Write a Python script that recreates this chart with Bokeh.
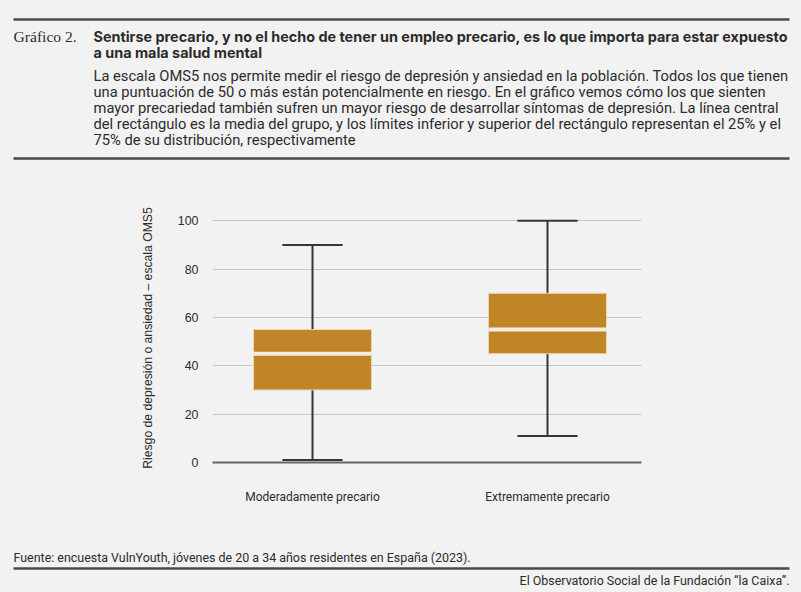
from bokeh.plotting import figure
from bokeh.models import Range1d, FixedTicker, Column
from bokeh.core.properties import value
from bokeh.embed import file_html
from bokeh.resources import INLINE

# ---------------- data ----------------
categories = ["Moderadamente precario", "Extremamente precario"]
whisker_low = [1, 11]
q1 = [30, 45]
mean = [45, 55]
q3 = [55, 70]
whisker_high = [90, 100]
y_ticks = [0, 20, 40, 60, 80, 100]

title_lines = [
    "Sentirse precario, y no el hecho de tener un empleo precario, es lo que importa para estar expuesto",
    "a una mala salud mental",
]
desc_lines = [
    "La escala OMS5 nos permite medir el riesgo de depresión y ansiedad en la población. Todos los que tienen",
    "una puntuación de 50 o más están potencialmente en riesgo. En el gráfico vemos cómo los que sienten",
    "mayor precariedad también sufren un mayor riesgo de desarrollar síntomas de depresión. La línea central",
    "del rectángulo es la media del grupo, y los límites inferior y superior del rectángulo representan el 25% y el",
    "75% de su distribución, respectivamente",
]
source_text = "Fuente: encuesta VulnYouth, jóvenes de 20 a 34 años residentes en España (2023)."
credit_text = "El Observatorio Social de la Fundación “la Caixa”."
y_label = "Riesgo de depresión o ansiedad – escala OMS5"

BG = "#f2f2f2"
W = 801
TEXT = "#2b2b2b"
RULE = "#4a4a4a"


def blank(h):
    f = figure(width=W, height=h, x_range=Range1d(0, W), y_range=Range1d(h, 0),
               output_backend="svg", toolbar_location=None,
               min_border=0, background_fill_color=BG, border_fill_color=BG)
    f.axis.visible = False
    f.grid.visible = False
    f.outline_line_color = None
    return f

# ---------------- header ----------------
HH = 165
hdr = blank(HH)
hdr.segment(x0=[13, 13], y0=[19, 158], x1=[789, 789], y1=[19, 158], line_color=RULE, line_width=2.5)
hdr.text(x=[13], y=[36], text=["Gráfico 2."], text_font=value("Liberation Serif"),
         text_font_size="15.6px", text_color=TEXT, text_baseline="middle")
hdr.text(x=[93, 93], y=[36, 52], text=title_lines, text_font=value("Inter"),
         text_font_style="bold", text_font_size="14.4px", text_color=TEXT, text_baseline="middle")
hdr.text(x=[93] * 5, y=[75, 91.7, 107.5, 123.5, 139.7], text=desc_lines, text_font=value("Roboto"),
         text_font_size="14.7px", text_color=TEXT, text_baseline="middle")

# ---------------- chart ----------------
xs = [i + 1 for i in range(len(categories))]
cap_half = 0.128
p = figure(width=W, height=375, x_range=Range1d(0.5745, 2.4), y_range=Range1d(0, 103),
           output_backend="svg", toolbar_location=None,
           min_border_left=212, min_border_right=160, min_border_top=48, min_border_bottom=78,
           background_fill_color=BG, border_fill_color=BG)
p.outline_line_color = None
p.xgrid.visible = False
p.ygrid.ticker = FixedTicker(ticks=y_ticks)
p.ygrid.grid_line_color = "#c6c6c6"
p.ygrid.grid_line_width = 1

p.yaxis.ticker = FixedTicker(ticks=y_ticks)
p.yaxis.axis_line_color = None
p.yaxis.major_tick_line_color = None
p.yaxis.minor_tick_line_color = None
p.yaxis.major_label_standoff = 8
p.yaxis.major_label_text_font = "Liberation Sans"
p.yaxis.major_label_text_font_size = "12.4px"
p.yaxis.major_label_text_color = TEXT
p.yaxis.axis_label = y_label
p.yaxis.axis_label_text_font = "Liberation Sans"
p.yaxis.axis_label_text_font_style = "normal"
p.yaxis.axis_label_text_font_size = "12.2px"
p.yaxis.axis_label_text_color = TEXT
p.yaxis.axis_label_standoff = 20

p.xaxis.ticker = FixedTicker(ticks=xs)
p.xaxis.major_label_overrides = {x: c for x, c in zip(xs, categories)}
p.xaxis.axis_line_color = "#6b6560"
p.xaxis.axis_line_width = 2
p.xaxis.major_tick_line_color = None
p.xaxis.minor_tick_line_color = None
p.xaxis.major_label_standoff = 21
p.xaxis.major_label_text_font = "Roboto"
p.xaxis.major_label_text_font_size = "12px"
p.xaxis.major_label_text_color = TEXT

WHISK = "#3b3531"
p.segment(x0=xs, y0=whisker_low, x1=xs, y1=whisker_high, line_color=WHISK, line_width=2)
p.segment(x0=[x - cap_half for x in xs], y0=whisker_high, x1=[x + cap_half for x in xs], y1=whisker_high,
          line_color=WHISK, line_width=2)
p.segment(x0=[x - cap_half for x in xs], y0=whisker_low, x1=[x + cap_half for x in xs], y1=whisker_low,
          line_color=WHISK, line_width=2)
p.vbar(x=xs, width=0.502, bottom=q1, top=q3, fill_color="#c08527", line_color="#e9d7b4", line_width=1)
p.rect(x=xs, y=mean, width=0.502, height=4, height_units="screen",
       fill_color="#f4efe6", line_color=None)

# ---------------- footer ----------------
FH = 52
ftr = blank(FH)
ftr.text(x=[13], y=[16.5], text=[source_text], text_font=value("Roboto"), text_font_size="12.45px",
         text_color=TEXT, text_baseline="middle")
ftr.segment(x0=[13], y0=[28], x1=[789], y1=[28], line_color=RULE, line_width=2.5)
ftr.text(x=[789], y=[40], text=[credit_text], text_font=value("Roboto"), text_font_size="12.45px",
         text_color=TEXT, text_baseline="middle", text_align="right")

layout = Column(children=[Column(children=[hdr]), Column(children=[p]), Column(children=[ftr])], spacing=0)
html = file_html(layout, INLINE, title="Gráfico 2")
html = html.replace("<head>", "<head><style>html,body{background:#f2f2f2;margin:0;padding:0;overflow:hidden;}</style>", 1)
open("out.html", "w").write(html)
